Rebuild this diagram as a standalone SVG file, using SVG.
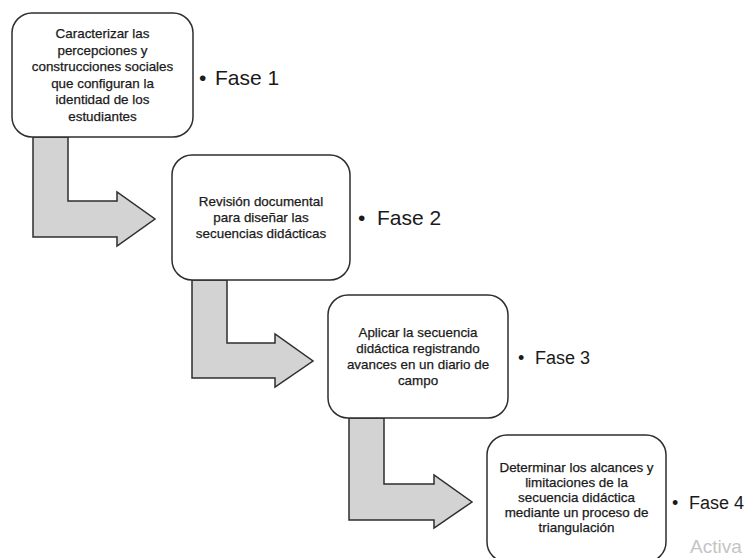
<svg xmlns="http://www.w3.org/2000/svg" width="749" height="558" viewBox="0 0 749 558">
<style>
.box{fill:#ffffff;stroke:#2e2e2e;stroke-width:1.5}
.arr{fill:#d3d3d3;stroke:#2e2e2e;stroke-width:1.5;stroke-linejoin:miter}
.t{font-family:"Liberation Sans",Arial,sans-serif;font-size:13.4px;fill:#1a1a1a;stroke:#1a1a1a;stroke-width:0.25;text-anchor:middle}
.f{font-family:"Liberation Sans",Arial,sans-serif;fill:#1a1a1a}
.wm{font-family:"Liberation Sans",Arial,sans-serif;font-size:19px;fill:#c4c4c4}
</style>
<rect x="0" y="0" width="749" height="558" fill="#ffffff"/>
<g id="connectors">
<polygon class="arr" points="33,137 68,137 68,201 117,201 117,192 155,219 117,246 117,237 33,237"/>
<polygon class="arr" points="192,280 227,280 227,343 275,343 275,334 313,361 275,387 275,378 192,378"/>
<polygon class="arr" points="349,418 384,418 384,484 434,484 434,475 472,502 434,528 434,520 349,520"/>
</g>
<g id="node1">
<rect class="box" x="12" y="13" width="181" height="124" rx="20" ry="20"/>
<text class="t" x="102.5" y="38">Caracterizar las</text>
<text class="t" x="102.5" y="54.5">percepciones y</text>
<text class="t" x="102.5" y="71">construcciones sociales</text>
<text class="t" x="102.5" y="87.5">que configuran la</text>
<text class="t" x="102.5" y="104">identidad de los</text>
<text class="t" x="102.5" y="120.5">estudiantes</text>
</g>
<g id="label1">
<text class="f" font-size="21" x="199" y="85">•<tspan x="215">Fase 1</tspan></text>
</g>
<g id="node2">
<rect class="box" x="172" y="155" width="178" height="125" rx="20" ry="20"/>
<text class="t" x="261" y="206">Revisión documental</text>
<text class="t" x="261" y="222">para diseñar las</text>
<text class="t" x="261" y="238">secuencias didácticas</text>
</g>
<g id="label2">
<text class="f" font-size="21" x="358" y="225">•<tspan x="377">Fase 2</tspan></text>
</g>
<g id="node3">
<rect class="box" x="328" y="295" width="180" height="123" rx="20" ry="20"/>
<text class="t" x="418" y="337">Aplicar la secuencia</text>
<text class="t" x="418" y="353">didáctica registrando</text>
<text class="t" x="418" y="369">avances en un diario de</text>
<text class="t" x="418" y="385">campo</text>
</g>
<g id="label3">
<text class="f" font-size="18" x="518" y="364">•<tspan x="535">Fase 3</tspan></text>
</g>
<g id="node4">
<rect class="box" x="487" y="435" width="179" height="127" rx="20" ry="20"/>
<text class="t" x="576.5" y="472">Determinar los alcances y</text>
<text class="t" x="576.5" y="487">limitaciones de la</text>
<text class="t" x="576.5" y="502">secuencia didáctica</text>
<text class="t" x="576.5" y="517">mediante un proceso de</text>
<text class="t" x="576.5" y="532">triangulación</text>
</g>
<g id="label4">
<text class="f" font-size="18" x="672" y="509">•<tspan x="689">Fase 4</tspan></text>
</g>
<text class="wm" x="690" y="553">Activa</text>
</svg>
